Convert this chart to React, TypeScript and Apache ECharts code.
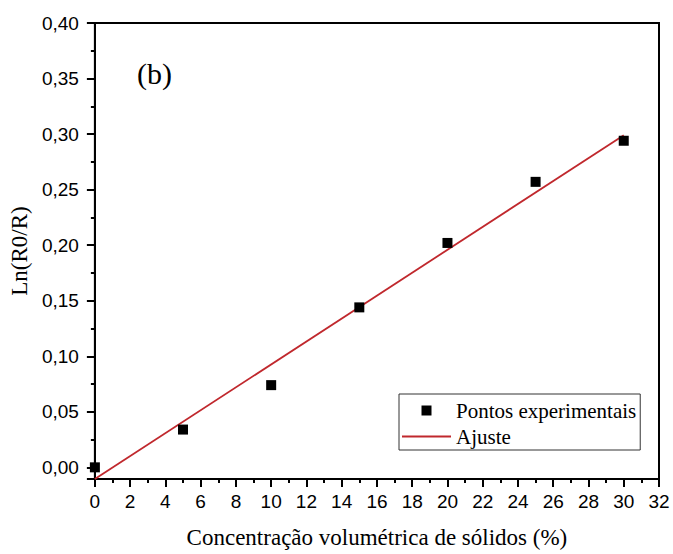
import React, { useEffect, useRef } from "react";
import * as echarts from "echarts";

const concentration = [0, 5, 10, 15, 20, 25, 30];
const lnRatio = [0.0, 0.034, 0.074, 0.144, 0.202, 0.257, 0.294];
const fitX = [0, 30];
const fitY = [-0.0105, 0.299];
const xTicks = { min: 0, max: 32, interval: 2 };
const yRange = { min: -0.0105, max: 0.4 };

const SERIF = "'Liberation Serif', 'Times New Roman', serif";
const SANS = "'Liberation Sans', Arial, sans-serif";

export default function App() {
  const ref = useRef<HTMLDivElement>(null);
  useEffect(() => {
    if (!ref.current) return;
    const chart = echarts.init(ref.current, undefined, { renderer: "svg" });
    const axisCommon = {
      axisLine: { show: true, onZero: false, lineStyle: { color: "#000", width: 2 } },
      axisTick: { show: true, inside: false, length: 8, lineStyle: { color: "#000", width: 2 } },
      minorTick: { show: true, splitNumber: 2, length: 4, lineStyle: { color: "#000", width: 2 } },
      splitLine: { show: false },
      minorSplitLine: { show: false },
    };
    chart.setOption({
      animation: false,
      backgroundColor: "#fff",
      grid: {
        left: 92,
        right: 14,
        top: 23,
        bottom: 73,
        show: true,
        borderColor: "#000",
        borderWidth: 2,
        containLabel: false,
      },
      xAxis: {
        type: "value",
        min: xTicks.min,
        max: xTicks.max,
        interval: xTicks.interval,
        ...axisCommon,
        axisLabel: {
          color: "#000",
          fontFamily: SANS,
          fontSize: 19,
          margin: 13,
          formatter: (v: number) => String(v),
        },
        name: "Concentração volumétrica de sólidos (%)",
        nameLocation: "middle",
        nameGap: 47,
        nameTextStyle: { color: "#000", fontFamily: SERIF, fontSize: 23 },
      },
      yAxis: {
        type: "value",
        min: yRange.min,
        max: yRange.max,
        splitNumber: 8,
        ...axisCommon,
        axisLabel: {
          color: "#000",
          fontFamily: SANS,
          fontSize: 19,
          margin: 16,
          formatter: (v: number) => (v < -1e-9 ? "" : v.toFixed(2).replace(".", ",")),
        },
        name: "Ln(R0/R)",
        nameLocation: "middle",
        nameGap: 58,
        nameRotate: 90,
        nameTextStyle: { color: "#000", fontFamily: SERIF, fontSize: 23 },
      },
      legend: {
        orient: "vertical",
        left: 399,
        top: 394,
        borderColor: "#333",
        borderWidth: 1,
        padding: [6, 4, 3, 3],
        itemWidth: 49,
        itemHeight: 10,
        itemGap: 5,
        symbolKeepAspect: true,
        textStyle: { color: "#000", fontFamily: SERIF, fontSize: 21 },
        data: [
          { name: "Pontos experimentais", icon: "path://M0,0L10,0L10,10L0,10Z" },
          { name: "Ajuste", icon: "path://M0,0L49,0L49,2L0,2Z" },
        ],
      },
      series: [
        {
          name: "Pontos experimentais",
          type: "scatter",
          symbol: "rect",
          symbolSize: 10,
          itemStyle: { color: "#000", opacity: 1 },
          data: concentration.map((x, i) => [x, lnRatio[i]]),
          z: 3,
        },
        {
          name: "Ajuste",
          type: "line",
          symbol: "none",
          showSymbol: false,
          lineStyle: { color: "#c0282d", width: 1.8 },
          itemStyle: { color: "#c0282d" },
          data: fitX.map((x, i) => [x, fitY[i]]),
          z: 2,
        },
      ],
      graphic: [
        {
          type: "text",
          left: 137,
          top: 58,
          style: { text: "(b)", fontFamily: SERIF, fontSize: 30, fill: "#000" },
        },
      ],
    });
    return () => chart.dispose();
  }, []);
  return (
    <div
      ref={ref}
      style={{ position: "fixed", left: 0, top: 0, width: 673, height: 554 }}
    />
  );
}
